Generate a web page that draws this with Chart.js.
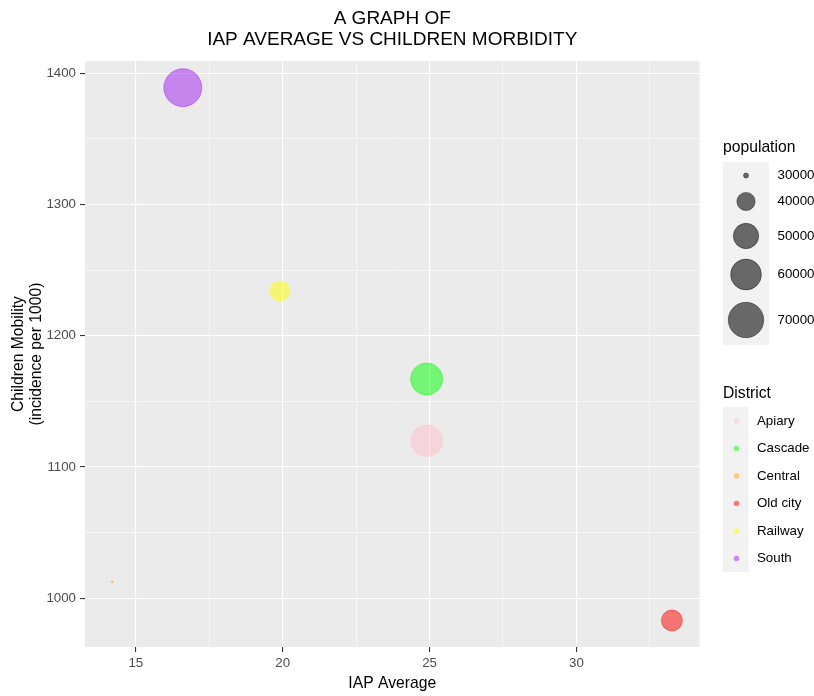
<!DOCTYPE html>
<html>
<head>
<meta charset="utf-8">
<script src="https://cdn.jsdelivr.net/npm/chart.js@4.4.1/dist/chart.umd.min.js"></script>
<style>
  body { margin: 0; background: #fff; }
  #wrap { width: 814px; height: 696px; }
</style>
</head>
<body>
<div id="wrap"><canvas id="bubbleChart"></canvas></div>
<script>
// data
const districts = ['Apiary', 'Cascade', 'Central', 'Old city', 'Railway', 'South'];
const iapAverage = [24.9, 24.9, 14.2, 33.25, 19.9, 16.6];
const childMorbidity = [1120, 1167, 1012.5, 983, 1234, 1389];
const population = [62000, 62500, 29300, 43500, 42000, 76000];
const districtColors = ['255,192,203', '0,255,0', '255,165,0', '255,0,0', '255,255,0', '160,32,240'];
const sizeBreaks = [30000, 40000, 50000, 60000, 70000];
const xTicks = [15, 17.5, 20, 22.5, 25, 27.5, 30, 32.5];
const yTicks = [1000, 1050, 1100, 1150, 1200, 1250, 1300, 1350, 1400];

const FONT = '"Liberation Sans", Arial, sans-serif';

// area-proportional size scale (like ggplot's scale_size)
function radiusFor(pop) {
    return Math.sqrt(Math.max(6.25 + 0.0077 * (pop - 30000), 0.8));
}

const isMajorX = v => v % 5 === 0;
const isMajorY = v => v % 100 === 0;

const datasets = districts.map((name, i) => ({
    label: name,
    data: [{ x: iapAverage[i], y: childMorbidity[i], r: radiusFor(population[i]) }],
    backgroundColor: `rgba(${districtColors[i]},0.5)`,
    borderColor: `rgba(${districtColors[i]},0.45)`,
    borderWidth: 1
}));

// draw the two ggplot style legends on the right
function drawLegends(ctx) {
    ctx.save();
    ctx.textAlign = 'left';

    // population legend
    ctx.font = `15.7px ${FONT}`;
    ctx.fillStyle = '#000';
    ctx.textBaseline = 'alphabetic';
    ctx.fillText('population', 723, 152);
    ctx.fillStyle = '#F2F2F2';
    ctx.fillRect(723, 162, 46, 183);
    const sizeRows = [175.5, 201.5, 236, 274.5, 320];
    ctx.font = `13.3px ${FONT}`;
    ctx.textBaseline = 'middle';
    sizeBreaks.forEach((b, i) => {
        ctx.beginPath();
        ctx.arc(746, sizeRows[i], radiusFor(b), 0, Math.PI * 2);
        ctx.fillStyle = 'rgba(0,0,0,0.57)';
        ctx.fill();
        ctx.strokeStyle = 'rgba(0,0,0,0.4)';
        ctx.lineWidth = 1;
        ctx.stroke();
        ctx.fillStyle = '#000';
        ctx.fillText(String(b), 777.5, sizeRows[i]);
    });

    // district legend
    ctx.font = `15.7px ${FONT}`;
    ctx.textBaseline = 'alphabetic';
    ctx.fillText('District', 723, 398);
    ctx.fillStyle = '#F2F2F2';
    ctx.fillRect(723, 407, 25.5, 165);
    ctx.font = `13.3px ${FONT}`;
    ctx.textBaseline = 'middle';
    districts.forEach((name, i) => {
        const y = 421 + i * 27.5;
        ctx.beginPath();
        ctx.arc(736.5, y, 2.8, 0, Math.PI * 2);
        ctx.fillStyle = `rgba(${districtColors[i]},0.5)`;
        ctx.fill();
        ctx.fillStyle = '#000';
        ctx.fillText(name, 757, y);
    });
    ctx.restore();
}

const ggPanel = {
    id: 'ggPanel',
    beforeDraw(chart) {
        const { ctx, chartArea: a } = chart;
        ctx.save();
        ctx.fillStyle = '#EBEBEB';
        ctx.fillRect(a.left, a.top, a.right - a.left, a.bottom - a.top);
        ctx.restore();
    },
    afterDraw(chart) {
        drawLegends(chart.ctx);
    }
};

const tickFont = { family: FONT, size: 13.3 };
const titleFont = { family: FONT, size: 15.7, lineHeight: 1.12 };

new Chart(document.getElementById('bubbleChart'), {
    type: 'bubble',
    data: { datasets },
    plugins: [ggPanel],
    options: {
        responsive: true,
        maintainAspectRatio: false,
        animation: false,
        layout: { padding: { left: 0, right: 114.5, top: 0, bottom: 0 } },
        plugins: {
            legend: { display: false },
            tooltip: { enabled: false },
            title: {
                display: true,
                fullSize: false,
                text: ['A GRAPH OF', 'IAP AVERAGE VS CHILDREN MORBIDITY'],
                color: '#000',
                font: { family: FONT, size: 19, weight: 'normal', lineHeight: 1.08 },
                padding: { top: 9, bottom: 11 }
            }
        },
        scales: {
            x: {
                type: 'linear',
                min: 13.27,
                max: 34.19,
                afterBuildTicks: scale => { scale.ticks = xTicks.map(v => ({ value: v })); },
                afterFit: scale => { scale.height = 49; },
                border: { display: false },
                grid: {
                    color: '#FFFFFF',
                    lineWidth: c => isMajorX(c.tick.value) ? 1.1 : 0.55,
                    tickColor: c => isMajorX(c.tick.value) ? '#333333' : 'rgba(0,0,0,0)',
                    tickLength: 5,
                    tickWidth: 1.1
                },
                ticks: {
                    autoSkip: false,
                    maxRotation: 0,
                    padding: 3,
                    color: '#4D4D4D',
                    font: tickFont,
                    callback: v => isMajorX(v) ? String(v) : ''
                },
                title: {
                    display: true,
                    text: 'IAP Average',
                    color: '#000',
                    font: titleFont,
                    padding: { top: 0, bottom: 4 }
                }
            },
            y: {
                type: 'linear',
                min: 962.8,
                max: 1409.3,
                afterBuildTicks: scale => { scale.ticks = yTicks.map(v => ({ value: v })); },
                afterFit: scale => { scale.width = 85; },
                border: { display: false },
                grid: {
                    color: '#FFFFFF',
                    lineWidth: c => isMajorY(c.tick.value) ? 1.1 : 0.55,
                    tickColor: c => isMajorY(c.tick.value) ? '#333333' : 'rgba(0,0,0,0)',
                    tickLength: 5,
                    tickWidth: 1.1
                },
                ticks: {
                    autoSkip: false,
                    padding: 4,
                    color: '#4D4D4D',
                    font: tickFont,
                    callback: v => isMajorY(v) ? String(v) : ''
                },
                title: {
                    display: true,
                    text: ['Children Mobility', '(incidence per 1000)'],
                    color: '#000',
                    font: titleFont,
                    padding: { top: 10, bottom: 0 }
                }
            }
        }
    }
});
</script>
</body>
</html>
